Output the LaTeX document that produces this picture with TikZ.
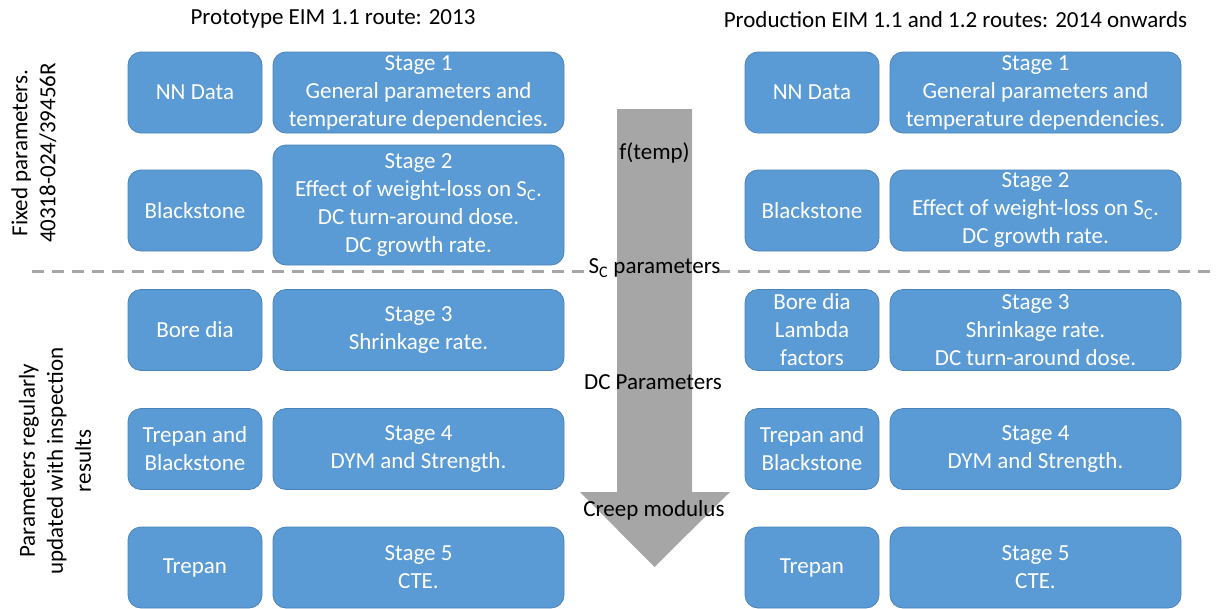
\documentclass[tikz,border=0pt]{standalone}
\usepackage{fontspec}
\setmainfont{Carlito}
\definecolor{boxblue}{HTML}{5B9BD5}
\definecolor{boxedge}{HTML}{4A83B8}
\definecolor{arrowgray}{HTML}{A6A6A6}
\begin{document}
\begin{tikzpicture}[x=1pt,y=-1pt,
  every node/.style={font=\fontsize{23}{28}\selectfont, inner sep=0pt},
  bx/.style={draw=boxedge, line width=0.8pt, fill=boxblue, rounded corners=13pt, text=white, align=center, minimum height=81pt},
  sm/.style={bx, minimum width=134pt},
  bg/.style={bx, minimum width=291pt},
  lbl/.style={text=black, align=center},
  side/.style={text=black, align=center, rotate=90}]
\useasboundingbox (0,0) rectangle (1222,608);
% dashed separator
\coordinate (dl1) at (32,271);
\coordinate (dl2) at (584,271);
\coordinate (dr1) at (718,271);
\coordinate (dr2) at (1215,271);
\draw[arrowgray, line width=3pt, dash pattern=on 12pt off 8pt] (dl1) -- (dl2);
\draw[arrowgray, line width=3pt, dash pattern=on 12pt off 8pt] (dr1) -- (dr2);
% big arrow
\fill[arrowgray] (617,109) -- (692,109) -- (692,492) -- (730,492) -- (654.5,567) -- (580,492) -- (617,492) -- cycle;
% titles
\node[lbl] (t1) at (333,19) {Prototype EIM 1.1 route: 2013};
\node[lbl] (t2) at (955.5,20) {Production EIM 1.1 and 1.2 routes: 2014 onwards};
% side labels
\node[side] (s1) at (34,153) {Fixed parameters.\\40318-024/39456R};
\node[side] (s2) at (55,461) {Parameters regularly\\updated with inspection\\results};
% arrow labels
\node[lbl] (a1) at (654.5,153) {f(temp)};
\node[lbl] (a2) at (654.5,268) {S\textsubscript{C} parameters};
\node[lbl] (a3) at (653,382) {DC Parameters};
\node[lbl] (a4) at (654,510) {Creep modulus};
% left column
\node[sm] (l1a) at (195,92.5) {NN Data};
\node[bg] (l1b) at (418.5,92.5) {Stage 1\\General parameters and\\temperature dependencies.};
\node[sm] (l2a) at (195,210.5) {Blackstone};
\node[bg, minimum height=120pt] (l2b) at (418.5,205) {Stage 2\\Effect of weight-loss on S\textsubscript{C}.\\DC turn-around dose.\\DC growth rate.};
\node[sm] (l3a) at (195,330) {Bore dia};
\node[bg] (l3b) at (418.5,330) {Stage 3\\Shrinkage rate.};
\node[sm] (l4a) at (195,449) {Trepan and\\Blackstone};
\node[bg] (l4b) at (418.5,449) {Stage 4\\DYM and Strength.};
\node[sm] (l5a) at (195,567.5) {Trepan};
\node[bg] (l5b) at (418.5,567.5) {Stage 5\\CTE.};
% right column
\node[sm] (r1a) at (812,92.5) {NN Data};
\node[bg] (r1b) at (1035.5,92.5) {Stage 1\\General parameters and\\temperature dependencies.};
\node[sm] (r2a) at (812,210.5) {Blackstone};
\node[bg] (r2b) at (1035.5,210.5) {Stage 2\\Effect of weight-loss on S\textsubscript{C}.\\DC growth rate.};
\node[sm] (r3a) at (812,330) {Bore dia\\Lambda\\factors};
\node[bg] (r3b) at (1035.5,330) {Stage 3\\Shrinkage rate.\\DC turn-around dose.};
\node[sm] (r4a) at (812,449) {Trepan and\\Blackstone};
\node[bg] (r4b) at (1035.5,449) {Stage 4\\DYM and Strength.};
\node[sm] (r5a) at (812,567.5) {Trepan};
\node[bg] (r5b) at (1035.5,567.5) {Stage 5\\CTE.};
\end{tikzpicture}
\end{document}
